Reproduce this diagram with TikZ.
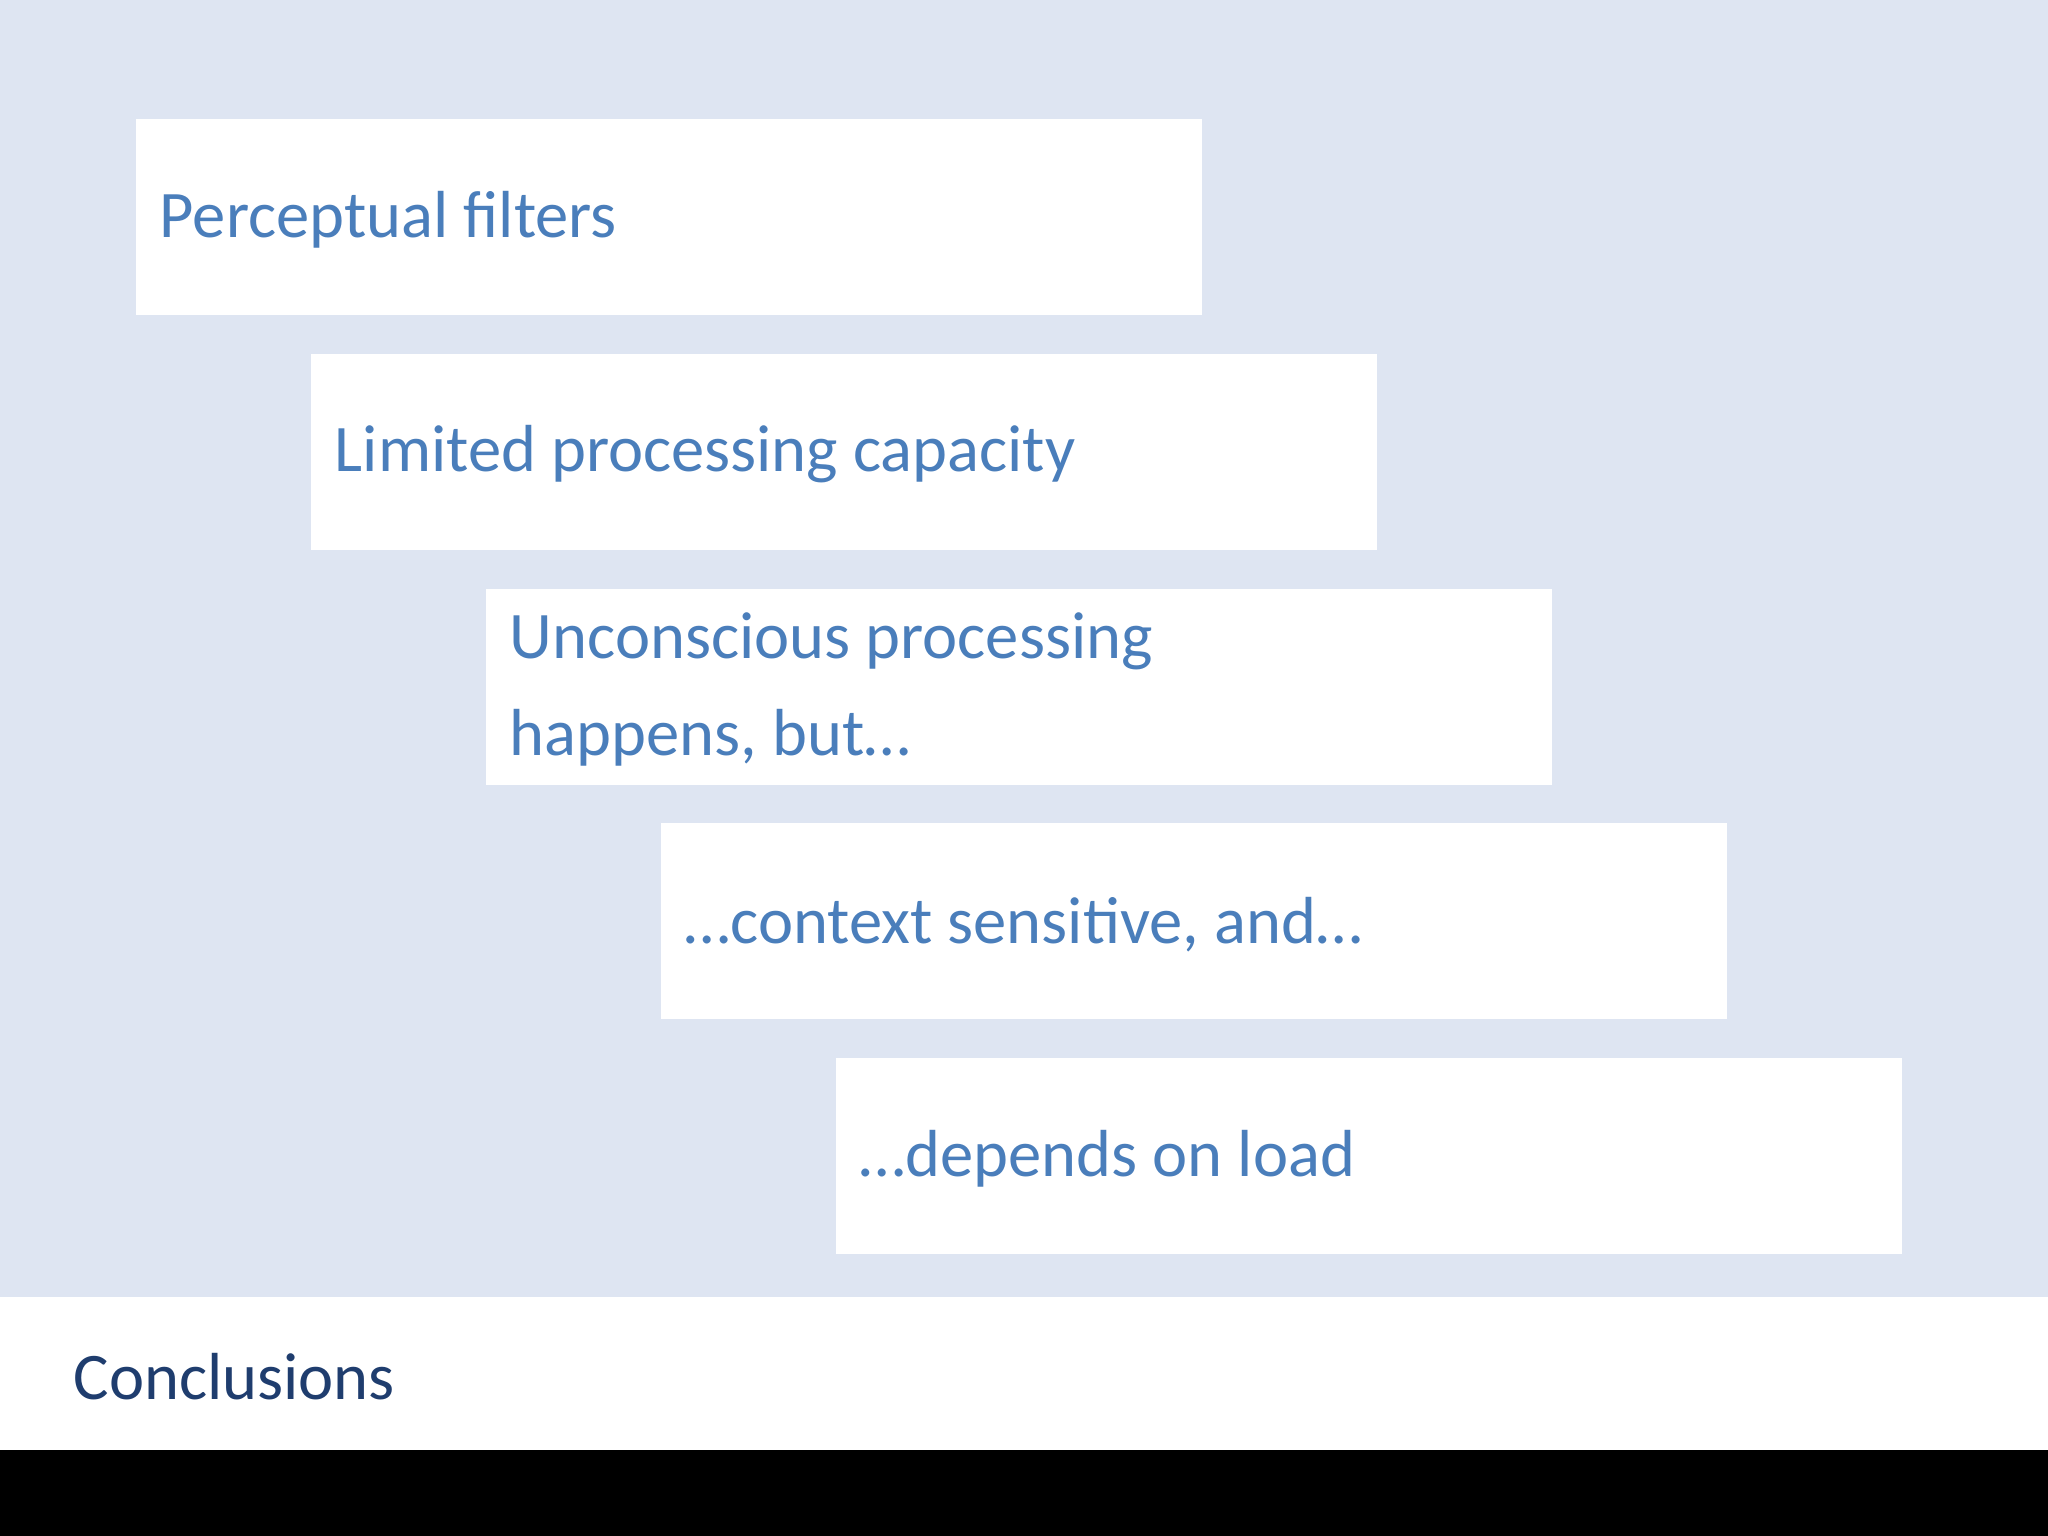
\documentclass[tikz,border=0pt]{standalone}
\usepackage{fontspec}
\setmainfont{Carlito}
\definecolor{bg}{HTML}{DEE5F2}
\definecolor{tx}{HTML}{4A7EBB}
\definecolor{tt}{HTML}{1F3D6E}
\begin{document}
\begin{tikzpicture}[x=0.02cm,y=-0.02cm,
  box/.style={fill=white,draw=none},
  lbl/.style={anchor=west,inner sep=0pt,text=tx,font=\fontsize{29}{42}\selectfont,align=left}]
\useasboundingbox (0,0) rectangle (1568,1176);
\fill[bg] (0,0) rectangle (1568,993);
\fill[white] (0,993) rectangle (1568,1110);
\fill[black] (0,1110) rectangle (1568,1176);
\fill[box] (104,91) rectangle (920,241);
\fill[box] (238,271) rectangle (1054,421);
\fill[box] (372,451) rectangle (1188,601);
\fill[box] (506,630) rectangle (1322,780);
\fill[box] (640,810) rectangle (1456,960);
\node[lbl] (a) at (122,168) {Perceptual filters};
\node[lbl] (b) at (256,348) {Limited processing capacity};
\node[lbl] (c) at (390,528) {Unconscious processing\\happens, but…};
\node[lbl] (d) at (524,708) {…context sensitive, and…};
\node[lbl] (e) at (658,887) {…depends on load};
\node[lbl,text=tt] (t) at (56,1054) {Conclusions};
\end{tikzpicture}
\end{document}
